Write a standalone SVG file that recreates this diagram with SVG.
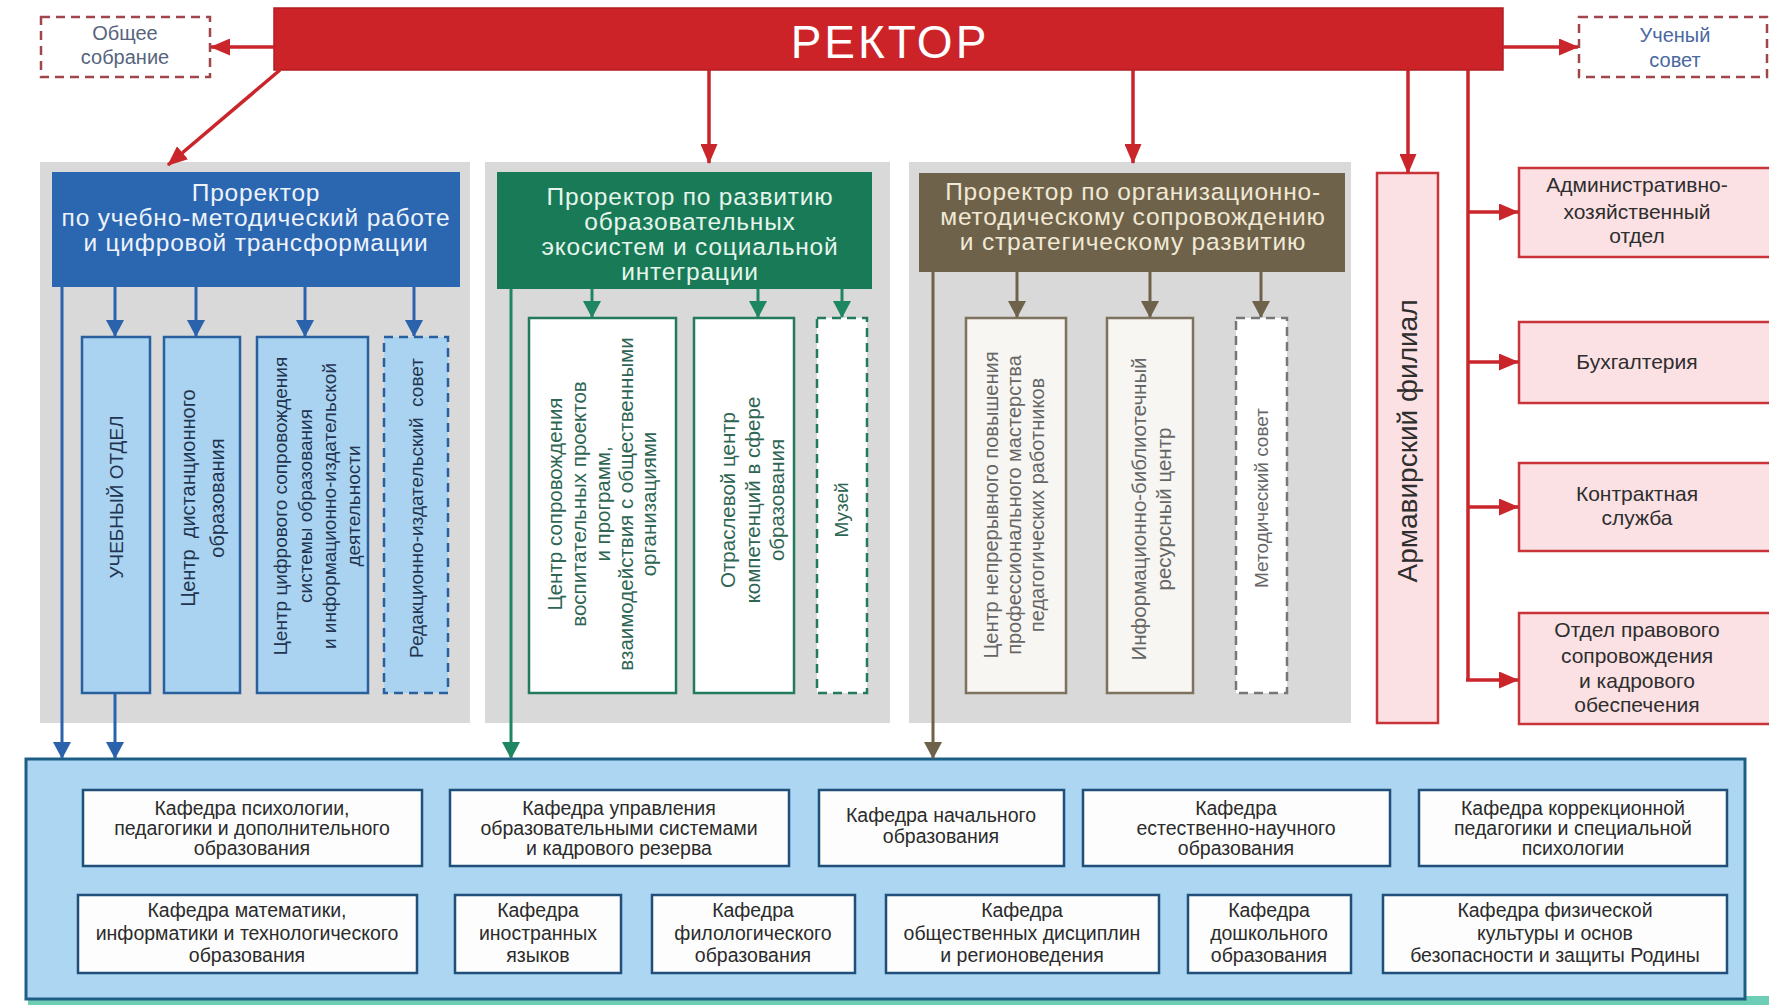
<svg xmlns="http://www.w3.org/2000/svg" width="1769" height="1005" viewBox="0 0 1769 1005">
<defs>
<style>
text{font-family:"Liberation Sans",Arial,sans-serif}
.mid{text-anchor:middle}
.panel{fill:#d9d9d9}
.hdr{font-size:24.5px;text-anchor:middle;letter-spacing:0.8px}
.bsub{fill:#a9d3f0;stroke:#2a5f9e;stroke-width:2.5}
.btx{fill:#22344f;text-anchor:middle}
.gsub{fill:#ffffff;stroke:#237a5c;stroke-width:2.5}
.gtx{fill:#2f6653;text-anchor:middle}
.psub{fill:#f7f6f2;stroke:#7d725e;stroke-width:2.5}
.ptx{fill:#666;text-anchor:middle}
.dash{stroke-dasharray:9 6}
.rbox{fill:#fbe1e3;stroke:#c8343a;stroke-width:2.5}
.rtx{fill:#2e2e2e;font-size:21px;text-anchor:middle}
.kaf{fill:#fdfdfd;stroke:#1f4f7a;stroke-width:2.5}
.ktx{fill:#2b2b2b;font-size:19.5px;text-anchor:middle}
.lr{stroke:#c9252b;stroke-width:3.5;fill:none}
.lb{stroke:#2a62ab;stroke-width:3;fill:none}
.lg{stroke:#1e8660;stroke-width:3;fill:none}
.lbr{stroke:#6e634a;stroke-width:3;fill:none}
</style>
<marker id="mR" markerUnits="userSpaceOnUse" markerWidth="20" markerHeight="17" refX="19" refY="8.5" orient="auto"><path d="M0,0 L20,8.5 L0,17 Z" fill="#c9252b"/></marker>
<marker id="mB" markerUnits="userSpaceOnUse" markerWidth="17" markerHeight="18" refX="16" refY="9" orient="auto"><path d="M0,0 L17,9 L0,18 Z" fill="#2a62ab"/></marker>
<marker id="mG" markerUnits="userSpaceOnUse" markerWidth="17" markerHeight="18" refX="16" refY="9" orient="auto"><path d="M0,0 L17,9 L0,18 Z" fill="#1e8660"/></marker>
<marker id="mBr" markerUnits="userSpaceOnUse" markerWidth="17" markerHeight="18" refX="16" refY="9" orient="auto"><path d="M0,0 L17,9 L0,18 Z" fill="#6e634a"/></marker>
</defs>
<rect width="1769" height="1005" fill="#ffffff"/>

<!-- panels -->
<rect class="panel" x="40" y="162" width="430" height="561"/>
<rect class="panel" x="485" y="162" width="405" height="561"/>
<rect class="panel" x="909" y="162" width="442" height="561"/>

<!-- bottom background -->
<rect x="28" y="996" width="1741" height="9" fill="#6dcdb5"/>
<g id="kafedry">
<rect x="26" y="759" width="1719" height="240" fill="#acd6f1" stroke="#1e5e86" stroke-width="3"/>
</g>

<g id="rector">
<rect x="274" y="8" width="1229" height="62" fill="#cc2329" stroke="#b01c22" stroke-width="1.5"/>
<text x="890" y="58" class="mid" fill="#ffffff" font-size="46" letter-spacing="3">РЕКТОР</text>
</g>

<g id="obshee">
<rect x="41" y="17" width="169" height="60" fill="#fff" stroke="#a0454a" stroke-width="2.5" class="dash"/>
<text x="125" y="40" class="mid" fill="#56657d" font-size="20">Общее</text>
<text x="125" y="64" class="mid" fill="#56657d" font-size="20">собрание</text>
</g>

<g id="uchsovet">
<rect x="1579" y="17" width="188" height="60" fill="#fff" stroke="#a0454a" stroke-width="2.5" class="dash"/>
<text x="1675" y="42" class="mid" fill="#4a68a0" font-size="20">Ученый</text>
<text x="1675" y="67" class="mid" fill="#4a68a0" font-size="20">совет</text>
</g>

<g id="prorector1">
<rect x="52" y="172" width="408" height="115" fill="#2b66b1"/>
<text class="hdr" fill="#eef3fb"><tspan x="256" y="201">Проректор</tspan><tspan x="256" y="226">по учебно-методический работе</tspan><tspan x="256" y="251">и цифровой трансформации</tspan></text>
</g>

<g id="prorector2">
<rect x="497" y="172" width="375" height="117" fill="#197a57"/>
<text class="hdr" fill="#e6f5ec" font-size="25.5"><tspan x="690" y="205">Проректор по развитию</tspan><tspan x="690" y="230">образовательных</tspan><tspan x="690" y="255">экосистем и социальной</tspan><tspan x="690" y="280">интеграции</tspan></text>
</g>

<g id="prorector3">
<rect x="919" y="173" width="426" height="99" fill="#6e634a"/>
<text class="hdr" fill="#f1e9d6" font-size="25.5"><tspan x="1133" y="200">Проректор по организационно-</tspan><tspan x="1133" y="225">методическому сопровождению</tspan><tspan x="1133" y="250">и стратегическому развитию</tspan></text>
</g>

<!-- panel 1 sub-units -->
<g id="uchebny">
<rect class="bsub" x="82" y="337" width="68" height="356"/>
<text class="btx" font-size="19" transform="translate(116,497) rotate(-90)"><tspan x="0" y="7">УЧЕБНЫЙ ОТДЕЛ</tspan></text>
</g>
<g id="distant">
<rect class="bsub" x="164" y="337" width="76" height="356"/>
<text class="btx" font-size="20" transform="translate(202,498) rotate(-90)" xml:space="preserve"><tspan x="0" y="-7">Центр  дистанционного</tspan><tspan x="0" y="22">образования</tspan></text>
</g>
<g id="cifrovoy">
<rect class="bsub" x="257" y="337" width="111" height="356"/>
<text class="btx" font-size="19" transform="translate(313,506) rotate(-90)"><tspan x="0" y="-26">Центр цифрового сопровождения</tspan><tspan x="0" y="-1">системы образования</tspan><tspan x="0" y="23">и информационно-издательской</tspan><tspan x="0" y="47">деятельности</tspan></text>
</g>
<g id="redsovet">
<rect class="bsub dash" x="384" y="337" width="64" height="356"/>
<text class="btx" font-size="19" transform="translate(416,508) rotate(-90)" xml:space="preserve"><tspan x="0" y="7">Редакционно-издательский  совет</tspan></text>
</g>

<!-- panel 2 sub-units -->
<g id="centr-vosp">
<rect class="gsub" x="529" y="318" width="147" height="375"/>
<text class="gtx" font-size="20.5" transform="translate(602,504) rotate(-90)"><tspan x="0" y="-40">Центр сопровождения</tspan><tspan x="0" y="-16">воспитательных проектов</tspan><tspan x="0" y="8">и программ,</tspan><tspan x="0" y="31">взаимодействия с общественными</tspan><tspan x="0" y="54">организациями</tspan></text>
</g>
<g id="otrasl">
<rect class="gsub" x="694" y="318" width="100" height="375"/>
<text class="gtx" font-size="20.5" transform="translate(744,500) rotate(-90)"><tspan x="0" y="-9">Отраслевой центр</tspan><tspan x="0" y="16">компетенций в сфере</tspan><tspan x="0" y="40">образования</tspan></text>
</g>
<g id="muzey">
<rect class="gsub dash" x="817" y="318" width="50" height="375"/>
<text class="gtx" font-size="19" transform="translate(841,510) rotate(-90)"><tspan x="0" y="7">Музей</tspan></text>
</g>

<!-- panel 3 sub-units -->
<g id="nepr">
<rect class="psub" x="966" y="318" width="100" height="375"/>
<text class="ptx" font-size="20" transform="translate(1016,505) rotate(-90)"><tspan x="0" y="-18">Центр непрерывного повышения</tspan><tspan x="0" y="5">профессионального мастерства</tspan><tspan x="0" y="28">педагогических работников</tspan></text>
</g>
<g id="biblio">
<rect class="psub" x="1107" y="318" width="86" height="375"/>
<text class="ptx" font-size="20.5" transform="translate(1150,509) rotate(-90)"><tspan x="0" y="-4">Информационно-библиотечный</tspan><tspan x="0" y="21">ресурсный центр</tspan></text>
</g>
<g id="metsovet">
<rect class="psub dash" x="1236" y="318" width="51" height="375" style="fill:#ffffff;stroke:#777"/>
<text class="ptx" font-size="19" transform="translate(1261,498) rotate(-90)"><tspan x="0" y="7">Методический совет</tspan></text>
</g>

<g id="armavir">
<rect class="rbox" x="1377" y="173" width="61" height="550"/>
<text fill="#2e2e2e" font-size="28" class="mid" transform="translate(1407,441) rotate(-90)"><tspan x="0" y="10">Армавирский филиал</tspan></text>
</g>

<g id="aho">
<rect class="rbox" x="1519" y="168" width="260" height="89"/>
<text class="rtx"><tspan x="1637" y="192">Административно-</tspan><tspan x="1637" y="219">хозяйственный</tspan><tspan x="1637" y="243">отдел</tspan></text>
</g>
<g id="buh">
<rect class="rbox" x="1519" y="322" width="260" height="81"/>
<text class="rtx" x="1637" y="369">Бухгалтерия</text>
</g>
<g id="kontrakt">
<rect class="rbox" x="1519" y="463" width="260" height="88"/>
<text class="rtx"><tspan x="1637" y="501">Контрактная</tspan><tspan x="1637" y="525">служба</tspan></text>
</g>
<g id="pravo">
<rect class="rbox" x="1519" y="613" width="260" height="111"/>
<text class="rtx"><tspan x="1637" y="637">Отдел правового</tspan><tspan x="1637" y="663">сопровождения</tspan><tspan x="1637" y="688">и кадрового</tspan><tspan x="1637" y="712">обеспечения</tspan></text>
</g>

<!-- kafedry -->
<g id="kaf-psih">
<rect class="kaf" x="83" y="790" width="339" height="76"/>
<text class="ktx"><tspan x="252" y="815">Кафедра психологии,</tspan><tspan x="252" y="835">педагогики и дополнительного</tspan><tspan x="252" y="855">образования</tspan></text>
</g>
<g id="kaf-upr">
<rect class="kaf" x="450" y="790" width="339" height="76"/>
<text class="ktx"><tspan x="619" y="815">Кафедра управления</tspan><tspan x="619" y="835">образовательными системами</tspan><tspan x="619" y="855">и кадрового резерва</tspan></text>
</g>
<g id="kaf-nach">
<rect class="kaf" x="819" y="790" width="245" height="76"/>
<text class="ktx"><tspan x="941" y="822">Кафедра начального</tspan><tspan x="941" y="843">образования</tspan></text>
</g>
<g id="kaf-est">
<rect class="kaf" x="1083" y="790" width="307" height="76"/>
<text class="ktx"><tspan x="1236" y="815">Кафедра</tspan><tspan x="1236" y="835">естественно-научного</tspan><tspan x="1236" y="855">образования</tspan></text>
</g>
<g id="kaf-korr">
<rect class="kaf" x="1419" y="790" width="308" height="76"/>
<text class="ktx"><tspan x="1573" y="815">Кафедра коррекционной</tspan><tspan x="1573" y="835">педагогики и специальной</tspan><tspan x="1573" y="855">психологии</tspan></text>
</g>
<g id="kaf-mat">
<rect class="kaf" x="78" y="895" width="339" height="78"/>
<text class="ktx"><tspan x="247" y="917">Кафедра математики,</tspan><tspan x="247" y="940">информатики и технологического</tspan><tspan x="247" y="962">образования</tspan></text>
</g>
<g id="kaf-in">
<rect class="kaf" x="455" y="895" width="166" height="78"/>
<text class="ktx"><tspan x="538" y="917">Кафедра</tspan><tspan x="538" y="940">иностранных</tspan><tspan x="538" y="962">языков</tspan></text>
</g>
<g id="kaf-fil">
<rect class="kaf" x="652" y="895" width="203" height="78"/>
<text class="ktx"><tspan x="753" y="917">Кафедра</tspan><tspan x="753" y="940">филологического</tspan><tspan x="753" y="962">образования</tspan></text>
</g>
<g id="kaf-obsh">
<rect class="kaf" x="886" y="895" width="273" height="78"/>
<text class="ktx"><tspan x="1022" y="917">Кафедра</tspan><tspan x="1022" y="940">общественных дисциплин</tspan><tspan x="1022" y="962">и регионоведения</tspan></text>
</g>
<g id="kaf-dosh">
<rect class="kaf" x="1188" y="895" width="163" height="78"/>
<text class="ktx"><tspan x="1269" y="917">Кафедра</tspan><tspan x="1269" y="940">дошкольного</tspan><tspan x="1269" y="962">образования</tspan></text>
</g>
<g id="kaf-fiz">
<rect class="kaf" x="1383" y="895" width="344" height="78"/>
<text class="ktx"><tspan x="1555" y="917">Кафедра физической</tspan><tspan x="1555" y="940">культуры и основ</tspan><tspan x="1555" y="962">безопасности и защиты Родины</tspan></text>
</g>

<g id="connectors">
<line class="lr" x1="274" y1="47" x2="211" y2="47" marker-end="url(#mR)"/>
<line class="lr" x1="1503" y1="47" x2="1578" y2="47" marker-end="url(#mR)"/>
<line class="lr" x1="280" y1="70" x2="168" y2="165" marker-end="url(#mR)"/>
<line class="lr" x1="709" y1="70" x2="709" y2="163" marker-end="url(#mR)"/>
<line class="lr" x1="1133" y1="70" x2="1133" y2="163" marker-end="url(#mR)"/>
<line class="lr" x1="1408" y1="70" x2="1408" y2="173" marker-end="url(#mR)"/>
<path class="lr" d="M1468,70 V680"/>
<line class="lr" x1="1468" y1="212" x2="1518" y2="212" marker-end="url(#mR)"/>
<line class="lr" x1="1468" y1="362" x2="1518" y2="362" marker-end="url(#mR)"/>
<line class="lr" x1="1468" y1="507" x2="1518" y2="507" marker-end="url(#mR)"/>
<line class="lr" x1="1466" y1="680" x2="1518" y2="680" marker-end="url(#mR)"/>

<line class="lb" x1="62" y1="287" x2="62" y2="758" marker-end="url(#mB)"/>
<line class="lb" x1="115" y1="693" x2="115" y2="758" marker-end="url(#mB)"/>
<line class="lb" x1="115" y1="287" x2="115" y2="336" marker-end="url(#mB)"/>
<line class="lb" x1="196" y1="287" x2="196" y2="336" marker-end="url(#mB)"/>
<line class="lb" x1="305" y1="287" x2="305" y2="336" marker-end="url(#mB)"/>
<line class="lb" x1="414" y1="287" x2="414" y2="336" marker-end="url(#mB)"/>

<line class="lg" x1="511" y1="289" x2="511" y2="758" marker-end="url(#mG)"/>
<line class="lg" x1="592" y1="289" x2="592" y2="317" marker-end="url(#mG)"/>
<line class="lg" x1="758" y1="289" x2="758" y2="317" marker-end="url(#mG)"/>
<line class="lg" x1="842" y1="289" x2="842" y2="317" marker-end="url(#mG)"/>

<line class="lbr" x1="933" y1="272" x2="933" y2="758" marker-end="url(#mBr)"/>
<line class="lbr" x1="1017" y1="272" x2="1017" y2="317" marker-end="url(#mBr)"/>
<line class="lbr" x1="1150" y1="272" x2="1150" y2="317" marker-end="url(#mBr)"/>
<line class="lbr" x1="1261" y1="272" x2="1261" y2="317" marker-end="url(#mBr)"/>
</g>
</svg>
